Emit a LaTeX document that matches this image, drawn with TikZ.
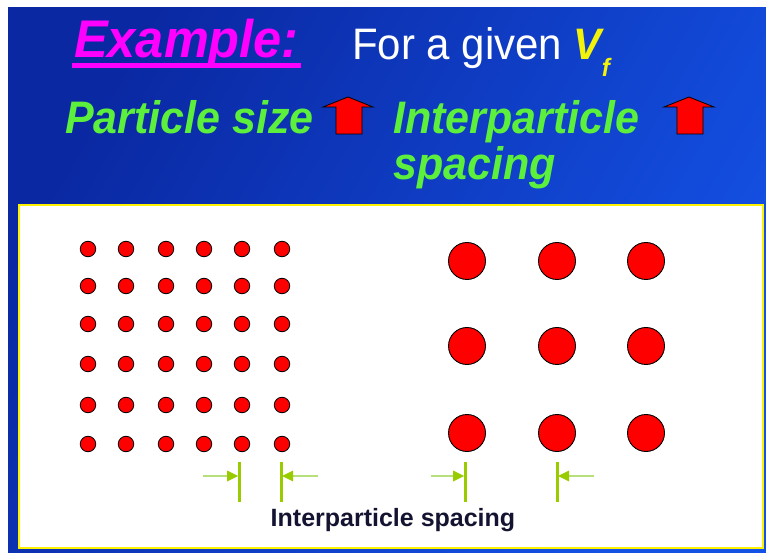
\documentclass[tikz,border=0pt]{standalone}
\usepackage{fontspec}
\setmainfont{Liberation Sans}
\definecolor{bgdark}{HTML}{0A28A2}
\definecolor{bglight}{HTML}{1452E6}
\definecolor{magen}{HTML}{FF00FF}
\definecolor{lime}{HTML}{5CF03C}
\definecolor{yel}{HTML}{F2F20A}
\definecolor{mark}{HTML}{99CC00}
\definecolor{markl}{HTML}{B8E07A}
\definecolor{navytext}{HTML}{141432}
\tikzset{
  txt/.style={inner sep=0pt, anchor=base west},
  small/.style={circle, fill=red, draw=black, line width=0.8pt, minimum size=15.5pt, inner sep=0pt},
  big/.style={circle, fill=red, draw=black, line width=0.9pt, minimum size=37pt, inner sep=0pt},
  uparrow/.style={fill=red, draw=black, line width=0.8pt, line join=miter},
  bar/.style={draw=mark, line width=3pt},
  shaft/.style={draw=markl, line width=2.2pt},
  tip/.style={fill=mark}
}
\begin{document}
\begin{tikzpicture}[x=1pt,y=-1pt]
\useasboundingbox (0,0) rectangle (766,553);
\fill[white] (0,0) rectangle (766,553);
\shade[top color=bgdark, bottom color=bglight, shading angle=60] (8,8) rectangle (766,553);
% title
\node[txt, text=magen, font=\fontsize{50}{50}\selectfont\bfseries\itshape] (ex) at (74,58) {\scalebox{1.01}[1.06]{Example:}};
\fill[magen] ([yshift=-5pt,xshift=-2pt]ex.base west) rectangle ([yshift=-10pt,xshift=2pt]ex.base east);
\node[txt, text=white, font=\fontsize{42}{42}\selectfont] (given) at (352,60) {\scalebox{1}[1.05]{For a given \textcolor{yel}{\bfseries\itshape V\raisebox{-0.38em}{\fontsize{24}{24}\selectfont f}}}};
% green line
\node[txt, text=lime, font=\fontsize{43}{43}\selectfont\bfseries\itshape] (ps) at (65,134) {\scalebox{1}[1.06]{Particle size}};
\node[txt, text=lime, font=\fontsize{43}{43}\selectfont\bfseries\itshape] (ip) at (393,134) {\scalebox{1}[1.06]{Interparticle}};
\node[txt, text=lime, font=\fontsize{43}{43}\selectfont\bfseries\itshape] (sp) at (393,180) {\scalebox{1}[1.06]{spacing}};
\draw[uparrow] (323,107) -- (348,97) -- (373,107) -- (362,107) -- (362,134) -- (336,134) -- (336,107) -- cycle;
\draw[uparrow] (664,107) -- (689,97) -- (714,107) -- (703,107) -- (703,134) -- (677,134) -- (677,107) -- cycle;
% white panel
\draw[fill=white, draw=yellow, line width=2pt] (19,205) rectangle (763,548);
% small particles
\foreach \x [count=\i] in {88,126,166,204,242,282}{
  \foreach \y [count=\j] in {249,286,324,364,405,444}{
    \node[small] (s\i\j) at (\x,\y) {};
  }
}
% large particles
\foreach \x [count=\i] in {467,557,646}{
  \foreach \y [count=\j] in {261,346,433}{
    \node[big] (b\i\j) at (\x,\y) {};
  }
}
% spacing markers
\coordinate (m1t) at (239,462); \coordinate (m1b) at (239,502);
\coordinate (m2t) at (281,462); \coordinate (m2b) at (281,502);
\coordinate (m3t) at (465,462); \coordinate (m3b) at (465,502);
\coordinate (m4t) at (557,462); \coordinate (m4b) at (557,502);
\coordinate (a1) at (203,476); \coordinate (h1) at (238,476);
\coordinate (a2) at (318,476); \coordinate (h2) at (282,476);
\coordinate (a3) at (431,476); \coordinate (h3) at (464,476);
\coordinate (a4) at (594,476); \coordinate (h4) at (558,476);
\foreach \k in {1,...,4}{\draw[bar] (m\k t) -- (m\k b);}
\draw[shaft] (a1) -- ([xshift=-8pt]h1);
\fill[tip] (h1) -- ++(-11,-5.5) -- ++(0,11) -- cycle;
\draw[shaft] (a2) -- ([xshift=8pt]h2);
\fill[tip] (h2) -- ++(11,-5.5) -- ++(0,11) -- cycle;
\draw[shaft] (a3) -- ([xshift=-8pt]h3);
\fill[tip] (h3) -- ++(-11,-5.5) -- ++(0,11) -- cycle;
\draw[shaft] (a4) -- ([xshift=8pt]h4);
\fill[tip] (h4) -- ++(11,-5.5) -- ++(0,11) -- cycle;
\node[inner sep=0pt, anchor=base, text=navytext, font=\fontsize{25}{25}\selectfont\bfseries] (lab) at (393,526) {Interparticle spacing};
\end{tikzpicture}
\end{document}
